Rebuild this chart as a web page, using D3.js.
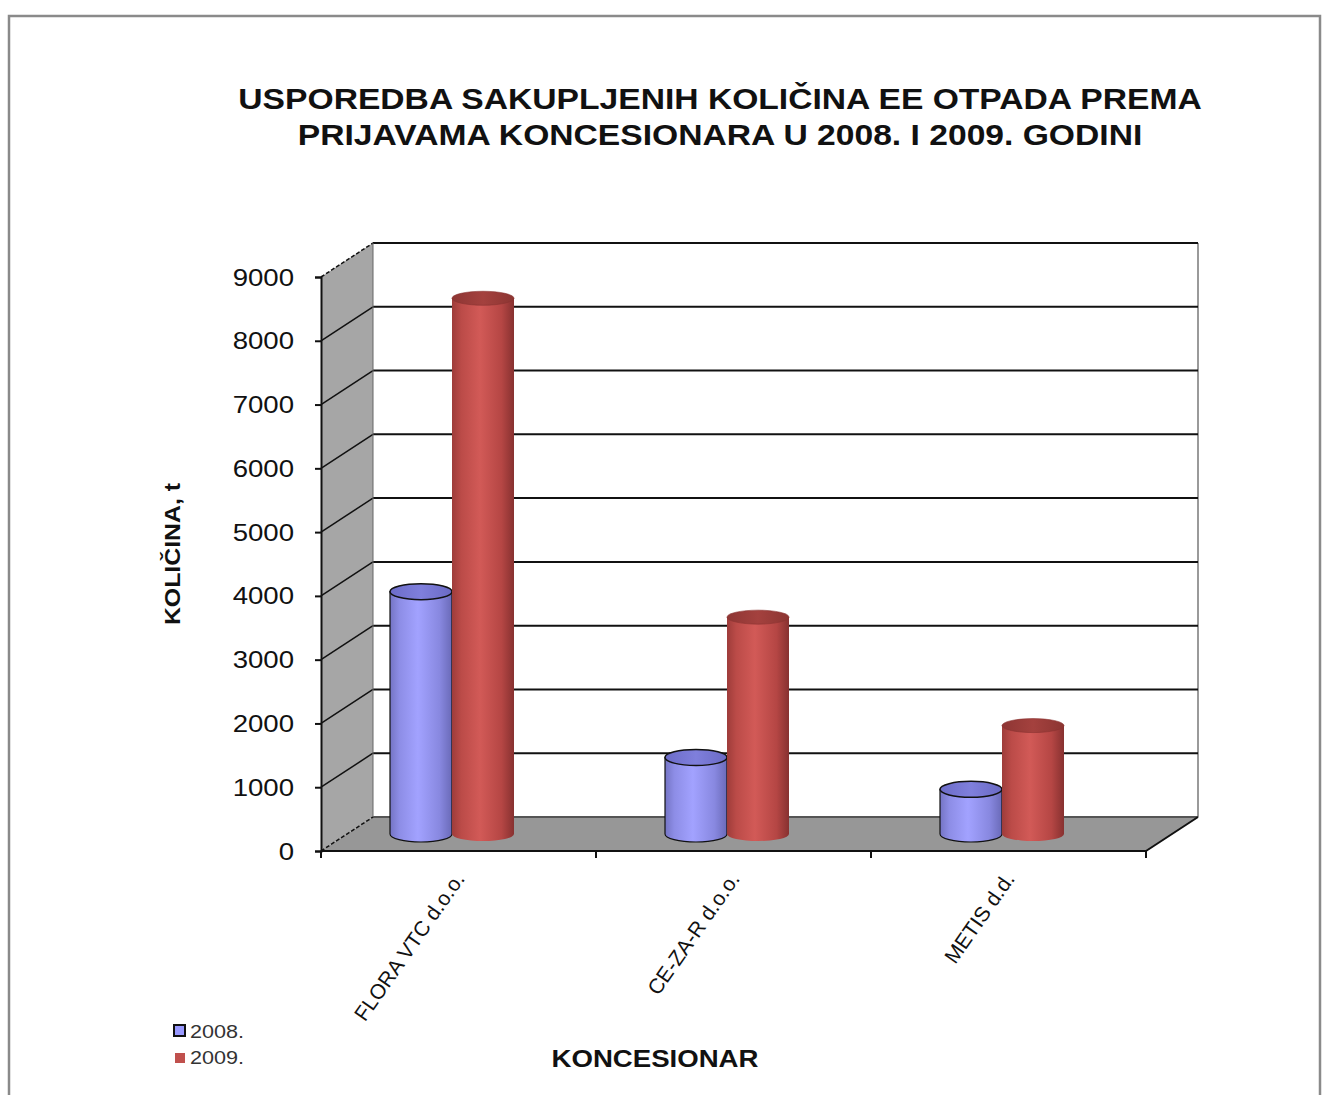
<!DOCTYPE html>
<html>
<head>
<meta charset="utf-8">
<script src="https://cdn.jsdelivr.net/npm/d3@7"></script>
<style>
  html, body { margin: 0; padding: 0; background: #fff; }
  svg { display: block; font-family: "Liberation Sans", Arial, sans-serif; }
</style>
</head>
<body>
<svg id="chart" width="1322" height="1095"></svg>
<script>
const categories = ['FLORA VTC d.o.o.', 'CE-ZA-R d.o.o.', 'METIS d.d.'];
const seriesNames = ['2008.', '2009.'];
const values2008 = [3800, 1200, 700];
const values2009 = [8400, 3400, 1700];
const yTicks = [0, 1000, 2000, 3000, 4000, 5000, 6000, 7000, 8000, 9000];

const svg = d3.select('#chart');
const defs = svg.append('defs');

// text in the original is a bit wider than plain Arial
const STRETCH = 1.2;

// outer frame
svg.append('rect')
  .attr('x', 9).attr('y', 16).attr('width', 1311).attr('height', 1095)
  .attr('fill', '#fff').attr('stroke', '#8a8a8a').attr('stroke-width', 2.5);

// ── 3D frame geometry
const DX = 52, DY = -34;
const y = d3.scaleLinear().domain([0, 9000]).range([851, 277]);
const x = d3.scaleBand().domain(categories).range([321, 1146]);
const x0 = 321, x1 = 1146;

const g = svg.append('g');

// side wall
g.append('path')
  .attr('d', `M${x0},${y(0)} L${x0},${y(9000)} L${x0 + DX},${y(9000) + DY} L${x0 + DX},${y(0) + DY} Z`)
  .attr('fill', '#a6a6a6');

// floor
g.append('path')
  .attr('d', `M${x0},${y(0)} L${x1},${y(0)} L${x1 + DX},${y(0) + DY} L${x0 + DX},${y(0) + DY} Z`)
  .attr('fill', '#979797');

// back wall right edge
g.append('line')
  .attr('x1', x1 + DX).attr('x2', x1 + DX)
  .attr('y1', y(9000) + DY).attr('y2', y(0) + DY)
  .attr('stroke', '#9a9a9a').attr('stroke-width', 2);

// gridlines on the back wall + diagonals on the side wall
yTicks.forEach(t => {
  g.append('line')
    .attr('x1', x0 + DX).attr('x2', x1 + DX)
    .attr('y1', y(t) + DY).attr('y2', y(t) + DY)
    .attr('stroke', t === 0 ? '#555' : '#111').attr('stroke-width', 2);
  g.append('line')
    .attr('x1', x0).attr('y1', y(t))
    .attr('x2', x0 + DX).attr('y2', y(t) + DY)
    .attr('stroke', '#111').attr('stroke-width', 1.5)
    .attr('stroke-dasharray', t === 0 || t === 9000 ? '4,2' : null);
});

// back wall left edge
g.append('line')
  .attr('x1', x0 + DX).attr('x2', x0 + DX)
  .attr('y1', y(9000) + DY).attr('y2', y(0) + DY)
  .attr('stroke', '#666').attr('stroke-width', 1);

// floor right diagonal
g.append('line')
  .attr('x1', x1).attr('y1', y(0))
  .attr('x2', x1 + DX).attr('y2', y(0) + DY)
  .attr('stroke', '#111').attr('stroke-width', 2);

// y axis (front)
const yAxis = d3.axisLeft(y).tickValues(yTicks).tickSize(6).tickFormat(d3.format('d'));
const ya = g.append('g').attr('transform', `translate(${x0},0)`).call(yAxis);
ya.select('.domain').attr('stroke', '#111').attr('stroke-width', 2);
ya.selectAll('.tick line').attr('stroke', '#111').attr('stroke-width', 2);
ya.selectAll('.tick text')
  .attr('x', null).attr('dy', null)
  .attr('transform', `translate(-27,8) scale(${STRETCH},1)`)
  .attr('text-anchor', 'end')
  .attr('font-size', 23).attr('fill', '#111')
  .attr('font-family', '"Liberation Sans", Arial, sans-serif');

// x axis (front)
const xa = g.append('g').attr('transform', `translate(0,${y(0)})`);
xa.append('line').attr('x1', x0).attr('x2', x1).attr('y1', 0).attr('y2', 0)
  .attr('stroke', '#111').attr('stroke-width', 2);
x.domain().map(c => x(c)).concat([x1]).forEach(xp => {
  xa.append('line').attr('x1', xp).attr('x2', xp).attr('y1', 0).attr('y2', 7)
    .attr('stroke', '#111').attr('stroke-width', 2);
});
xa.selectAll('text.cat').data(categories).join('text')
  .attr('class', 'cat')
  .attr('transform', d => `translate(${x(d) + x.bandwidth() / 2 + 7},${28}) rotate(-55)`)
  .attr('text-anchor', 'end')
  .attr('font-size', 21).attr('fill', '#111')
  .text(d => d);

// ── cylinders
function makeGrad(id, stops) {
  const gr = defs.append('linearGradient').attr('id', id)
    .attr('x1', '0%').attr('x2', '100%').attr('y1', '0%').attr('y2', '0%');
  stops.forEach(([o, c]) => gr.append('stop').attr('offset', o).attr('stop-color', c));
}
makeGrad('blueBody', [['0%', '#7474c4'], ['15%', '#8d8de6'], ['45%', '#a2a2ff'], ['80%', '#8888e0'], ['100%', '#6a6ab8']]);
makeGrad('redBody', [['0%', '#9e3c3a'], ['15%', '#bb4b48'], ['45%', '#d25a57'], ['80%', '#b54644'], ['100%', '#873130']]);
makeGrad('blueTop', [['0%', '#6c6cc8'], ['50%', '#7f7fdc'], ['100%', '#6a6ac4']]);
makeGrad('redTop', [['0%', '#8e3634'], ['50%', '#a4413e'], ['100%', '#8c3532']]);

const RX = 31, RY_BLUE = 8, RY_RED = 7;
const BASE_SHIFT = DY / 2; // bars stand at mid depth
const groupOffset = 131;

const series = [
  { name: seriesNames[0], values: values2008, body: 'url(#blueBody)', top: 'url(#blueTop)', stroke: '#111', ry: RY_BLUE, dx: -RX },
  { name: seriesNames[1], values: values2009, body: 'url(#redBody)', top: 'url(#redTop)', stroke: 'none', ry: RY_RED, dx: RX }
];

categories.forEach((c, ci) => {
  series.forEach(s => {
    const cx = x(c) + groupOffset + s.dx;
    const yb = y(0) + BASE_SHIFT;
    const yt = y(s.values[ci]) + BASE_SHIFT;
    const ry = s.ry;
    const cyl = g.append('g');
    cyl.append('path')
      .attr('d', `M${cx - RX},${yt} L${cx - RX},${yb} A${RX},${ry} 0 0 0 ${cx + RX},${yb} L${cx + RX},${yt} Z`)
      .attr('fill', s.body)
      .attr('stroke', s.stroke).attr('stroke-width', 1.2);
    cyl.append('ellipse')
      .attr('cx', cx).attr('cy', yt).attr('rx', RX).attr('ry', ry)
      .attr('fill', s.top)
      .attr('stroke', s.stroke === 'none' ? '#8a3331' : s.stroke).attr('stroke-width', s.stroke === 'none' ? 0.6 : 1.5);
  });
});

// ── titles
const title = svg.append('text')
  .attr('transform', 'translate(720,109) scale(1.16,1)')
  .attr('text-anchor', 'middle')
  .attr('font-size', 29).attr('font-weight', 'bold').attr('fill', '#111');
title.append('tspan').attr('x', 0).attr('dy', 0).text('USPOREDBA SAKUPLJENIH KOLIČINA EE OTPADA PREMA');
title.append('tspan').attr('x', 0).attr('dy', 36).text('PRIJAVAMA KONCESIONARA U 2008. I 2009. GODINI');

svg.append('text')
  .attr('transform', 'translate(180,554) rotate(-90) scale(1.13,1)')
  .attr('text-anchor', 'middle')
  .attr('font-size', 22).attr('font-weight', 'bold').attr('fill', '#111')
  .text('KOLIČINA, t');

svg.append('text')
  .attr('transform', `translate(655,1067) scale(${STRETCH},1)`)
  .attr('text-anchor', 'middle')
  .attr('font-size', 23).attr('font-weight', 'bold').attr('fill', '#111')
  .text('KONCESIONAR');

// ── legend
const legend = svg.append('g').attr('transform', 'translate(174,1024)');
legend.append('rect').attr('x', 0).attr('y', 1).attr('width', 11).attr('height', 11)
  .attr('fill', '#9999ff').attr('stroke', '#111').attr('stroke-width', 2);
legend.append('text').attr('transform', `translate(16,14) scale(${STRETCH},1)`)
  .attr('font-size', 18).attr('fill', '#333').text(seriesNames[0]);
legend.append('rect').attr('x', 1).attr('y', 29).attr('width', 10).attr('height', 10)
  .attr('fill', '#c0504d');
legend.append('text').attr('transform', `translate(16,40) scale(${STRETCH},1)`)
  .attr('font-size', 18).attr('fill', '#333').text(seriesNames[1]);
</script>
</body>
</html>
